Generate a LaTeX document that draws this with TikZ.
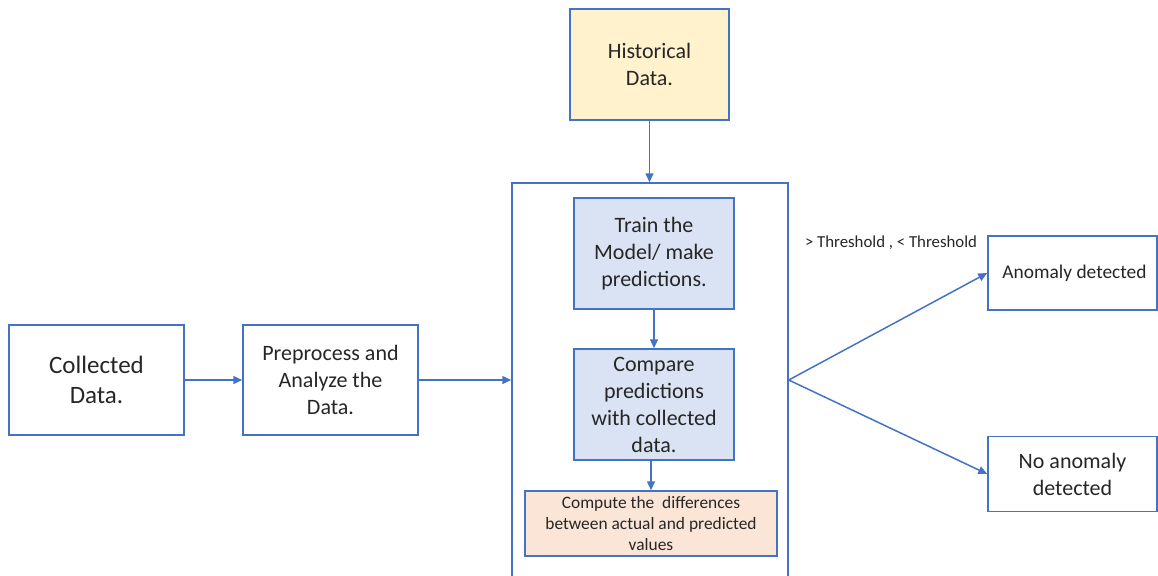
\documentclass[tikz,border=0pt]{standalone}
\usepackage{fontspec}
\setmainfont{Carlito}
\usetikzlibrary{arrows.meta}

\definecolor{edgeblue}{HTML}{4472C4}
\definecolor{textgray}{HTML}{262626}
\definecolor{histfill}{HTML}{FFF2CC}
\definecolor{modelfill}{HTML}{DAE3F3}
\definecolor{difffill}{HTML}{FBE5D6}

\begin{document}
\begin{tikzpicture}[x=0.5pt,y=-0.5pt,
    box/.style={draw=edgeblue,line width=0.75pt,align=center,inner sep=0pt,text=textgray,
      font=\fontsize{11}{13.5}\selectfont},
    flow/.style={draw=edgeblue,line width=0.75pt,-{Triangle[length=4.5pt,width=4pt]}}]
  \useasboundingbox (0,0) rectangle (1158,575);
  \clip (0,0) rectangle (1158,575);

  \node[box,minimum width=87.5pt,minimum height=55pt,font=\fontsize{12.5}{15}\selectfont] (collected) at (96.5,380) {Collected\\Data.};
  \node[box,minimum width=87.5pt,minimum height=55pt] (prep) at (330.5,380) {Preprocess and\\Analyze the\\Data.};
  \node[box,fill=histfill,minimum width=79.5pt,minimum height=55.5pt] (hist) at (649.5,64.5) {Historical\\Data.};

  % open frame round the model steps
  \node[box,minimum width=138pt,minimum height=218.5pt] (stage) at (650,401.5) {};

  \node[box,fill=modelfill,minimum width=80pt,minimum height=55.5pt] (train) at (654,253.5) {Train the\\Model/ make\\predictions.};
  \node[box,fill=modelfill,minimum width=80pt,minimum height=55.5pt] (compare) at (654,404.5) {Compare\\predictions\\with collected\\data.};
  \node[box,fill=difffill,minimum width=126pt,minimum height=32.5pt,font=\fontsize{8.7}{10.5}\selectfont] (diff) at (651,523.5) {Compute the~ differences\\between actual and predicted\\values};

  \node[box,minimum width=84.5pt,minimum height=37pt,font=\fontsize{9.7}{12}\selectfont] (anomaly) at (1072.5,273) {\hspace{2pt}Anomaly detected};
  \node[box,minimum width=84.5pt,minimum height=37.5pt] (normal) at (1072.5,474) {No anomaly\\detected};
  \node[text=textgray,font=\fontsize{8.4}{10}\selectfont] (thresh) at (891,243) {> Threshold , < Threshold};

  \coordinate (fork) at (stage.east |- prep);

  \draw[flow] (collected) -- (prep);
  \draw[flow] (prep) -- (prep -| stage.west);
  \draw[flow] (hist.south) -- (hist.south |- stage.north);
  \draw[flow] (train) -- (compare);
  \draw[flow] (diff.north |- compare.south) -- (diff.north);
  \draw[flow] (fork) -- (anomaly.west);
  \draw[flow] (fork) -- (normal.west);
\end{tikzpicture}
\end{document}
